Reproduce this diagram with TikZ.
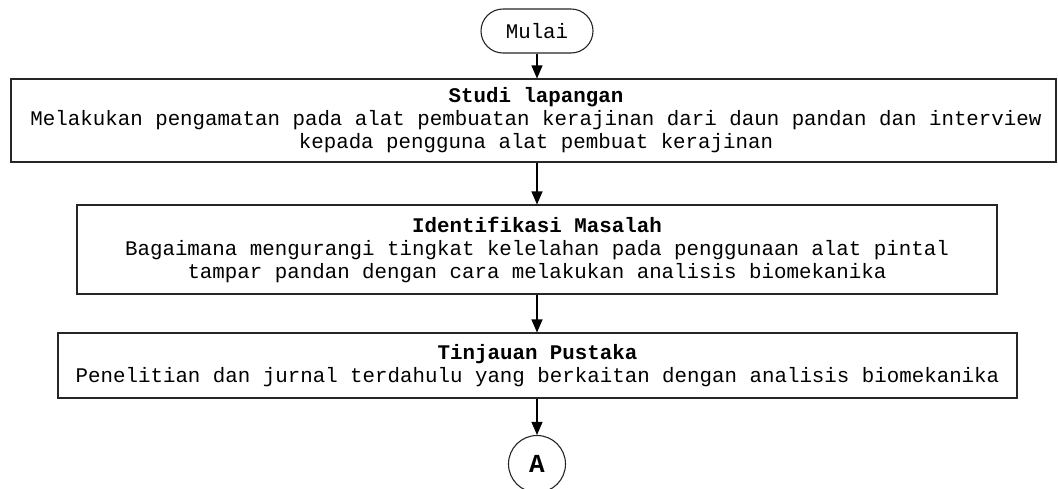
\documentclass[tikz,border=0pt]{standalone}
\usepackage{fontspec}
\setmainfont{Liberation Mono}
\usetikzlibrary{arrows.meta}
\begin{document}
\begin{tikzpicture}[x=1pt,y=-1pt,
  box/.style={draw=black!85, line width=1.1pt, inner sep=0pt},
  txt/.style={font=\fontsize{20.8}{23}\selectfont, align=center, inner sep=0pt},
  arr/.style={draw=black, line width=1.1pt, -{Triangle[length=13pt,width=11pt]}}]
\useasboundingbox (0,0) rectangle (1058,488);
\fill[white] (0,0) rectangle (1058,488);
\node[box, rounded corners=22pt, minimum width=112pt, minimum height=44pt, txt] (mulai) at (537,31) {Mulai};
\node[box, minimum width=1045pt, minimum height=83pt] (b1) at (533.5,120.5) {};
\node[txt] (t1) at (536,120.5) {\textbf{Studi lapangan}\\Melakukan pengamatan pada alat pembuatan kerajinan dari daun pandan dan interview\\kepada pengguna alat pembuat kerajinan};
\node[box, minimum width=920pt, minimum height=89pt] (b2) at (537,249.5) {};
\node[txt] (t2) at (537,249.5) {\textbf{Identifikasi Masalah}\\Bagaimana mengurangi tingkat kelelahan pada penggunaan alat pintal\\tampar pandan dengan cara melakukan analisis biomekanika};
\node[box, minimum width=959pt, minimum height=65pt] (b3) at (537.5,365.5) {};
\node[txt] (t3) at (537.5,365.5) {\textbf{Tinjauan Pustaka}\\Penelitian dan jurnal terdahulu yang berkaitan dengan analisis biomekanika};
\node[box, circle, minimum size=57pt, font=\fontsize{26}{28}\selectfont\bfseries] (a) at (537,464) {A};
\draw[arr] (mulai.south) -- (mulai.south |- b1.north);
\draw[arr] (mulai.south |- b1.south) -- (mulai.south |- b2.north);
\draw[arr] (mulai.south |- b2.south) -- (mulai.south |- b3.north);
\draw[arr] (mulai.south |- b3.south) -- (a.north);
\end{tikzpicture}
\end{document}
